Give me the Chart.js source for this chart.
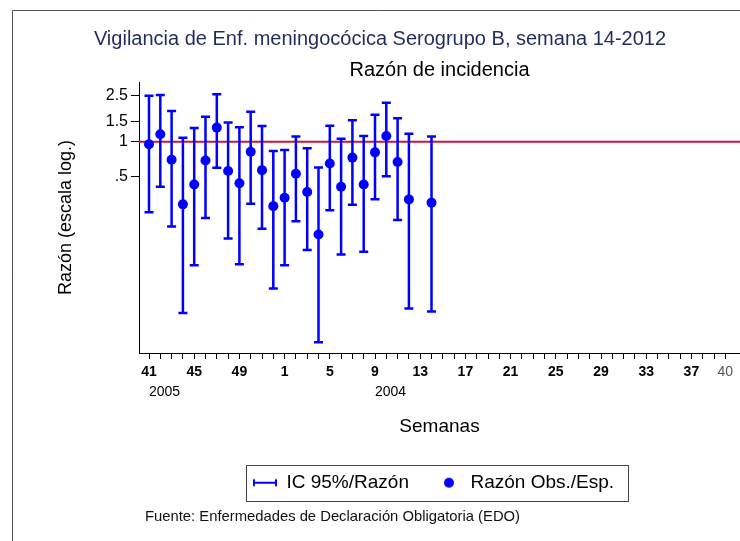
<!DOCTYPE html>
<html>
<head>
<meta charset="utf-8">
<title>Vigilancia Enf. meningocócica</title>
<script src="https://cdn.jsdelivr.net/npm/chart.js"></script>
<style>
  html, body { margin: 0; padding: 0; background: #fff; }
  #wrap { width: 740px; height: 541px; position: relative; }
</style>
</head>
<body>
<div id="wrap"><canvas id="grafico"></canvas></div>
<script>
// Semanas del eje X (41-52 y luego 1-40)
const semanas = [41, 42, 43, 44, 45, 46, 47, 48, 49, 50, 51, 52,
  1, 2, 3, 4, 5, 6, 7, 8, 9, 10, 11, 12, 13, 14, 15, 16, 17, 18, 19, 20,
  21, 22, 23, 24, 25, 26, 27, 28, 29, 30, 31, 32, 33, 34, 35, 36, 37, 38, 39, 40];
const semanasEtiquetadas = [41, 45, 49, 1, 5, 9, 13, 17, 21, 25, 29, 33, 37, 40];
const anios = ['2005', '2004'];
const aniosSemana = [41, 9];

// Razón observados/esperados e IC 95% (null = sin dato)
const razon = [0.95, 1.16, 0.70, 0.29, 0.43, 0.69, 1.32, 0.56, 0.44, 0.82, 0.57, 0.28,
  0.33, 0.53, 0.37, 0.16, 0.65, 0.41, 0.73, 0.43, 0.81, 1.12, 0.67, 0.32, null, 0.30];
const icInferior = [0.248, 0.411, 0.187, 0.034, 0.087, 0.222, 0.598, 0.148, 0.089, 0.294, 0.179, 0.055,
  0.087, 0.208, 0.118, 0.019, 0.258, 0.108, 0.288, 0.114, 0.321, 0.505, 0.213, 0.037, null, 0.035];
const icSuperior = [2.48, 2.51, 1.83, 1.08, 1.31, 1.64, 2.55, 1.46, 1.33, 1.81, 1.36, 0.83,
  0.85, 1.11, 0.88, 0.60, 1.37, 1.06, 1.53, 1.12, 1.70, 2.16, 1.59, 1.17, null, 1.11];

// Eje Y (escala log.)
const ejeYValores = [0.5, 1, 1.5, 2.5];
const ejeYEtiquetas = ['.5', '1', '1.5', '2.5'];
const referencia = 1;

const yMin = 0.0154, yMax = 3.25;
const xMin = -0.885, xMax = 52.3;

const azul = '#0000ff';
const rojo = '#c8163c';

Chart.defaults.font.family = '"Liberation Sans", Arial, Helvetica, sans-serif';
Chart.defaults.color = '#000';

// iconos de la leyenda
function iconoIC() {
  const c = document.createElement('canvas');
  c.width = 24; c.height = 10;
  const g = c.getContext('2d');
  g.strokeStyle = azul; g.lineWidth = 2;
  g.beginPath();
  g.moveTo(1, 1.5); g.lineTo(1, 8.5);
  g.moveTo(23, 1.5); g.lineTo(23, 8.5);
  g.moveTo(1, 5); g.lineTo(23, 5);
  g.stroke();
  return c;
}
function iconoPunto() {
  const c = document.createElement('canvas');
  c.width = 24; c.height = 12;
  const g = c.getContext('2d');
  g.fillStyle = azul;
  g.beginPath(); g.arc(12, 6, 5, 0, Math.PI * 2); g.fill();
  return c;
}

const puntos = [];
razon.forEach((r, i) => { if (r != null) puntos.push({ x: i, y: r }); });

// barras de IC, dibujadas antes de los puntos
const barrasError = {
  id: 'barrasError',
  beforeDatasetDraw(chart, args) {
    if (args.index !== 1) return;
    const { ctx, scales: { x, y } } = chart;
    ctx.save();
    ctx.strokeStyle = azul;
    ctx.lineWidth = 2.5;
    razon.forEach((r, i) => {
      if (icInferior[i] == null) return;
      const px = x.getPixelForValue(i);
      const y1 = y.getPixelForValue(icInferior[i]);
      const y2 = y.getPixelForValue(icSuperior[i]);
      ctx.beginPath();
      ctx.moveTo(px, y1); ctx.lineTo(px, y2);
      ctx.moveTo(px - 4.5, y1); ctx.lineTo(px + 4.5, y1);
      ctx.moveTo(px - 4.5, y2); ctx.lineTo(px + 4.5, y2);
      ctx.stroke();
    });
    ctx.restore();
  }
};

// marco, caja de la leyenda y fuente
const adornos = {
  id: 'adornos',
  afterLayout(chart) {
    // la leyenda va algo a la izquierda del centro del área
    chart.legend.left -= 6;
    chart.legend.right -= 6;
  },
  beforeDraw(chart) {
    const ctx = chart.ctx;
    ctx.save();
    ctx.fillStyle = '#fff';
    ctx.fillRect(0, 0, chart.width, chart.height);
    ctx.strokeStyle = '#555';
    ctx.lineWidth = 1;
    ctx.beginPath();
    ctx.moveTo(12.5, chart.height); ctx.lineTo(12.5, 10.5); ctx.lineTo(chart.width, 10.5);
    ctx.stroke();
    ctx.restore();
  },
  afterDraw(chart) {
    const ctx = chart.ctx;
    const hb = chart.legend.legendHitBoxes;
    if (hb && hb.length) {
      const left = Math.min(...hb.map(h => h.left)) - 7;
      const right = Math.max(...hb.map(h => h.left + h.width)) + 14;
      const mid = hb[0].top + hb[0].height / 2;
      ctx.save();
      ctx.strokeStyle = '#444';
      ctx.lineWidth = 1;
      ctx.strokeRect(Math.round(left) + 0.5, Math.round(mid - 18) + 0.5, Math.round(right - left), 36);
      ctx.restore();
    }
    ctx.save();
    ctx.font = '14.8px "Liberation Sans", Arial, sans-serif';
    ctx.fillStyle = '#111';
    ctx.textBaseline = 'middle';
    ctx.fillText('Fuente: Enfermedades de Declaración Obligatoria (EDO)', 145, 517);
    ctx.restore();
  }
};

const sinRelleno = (s) => { s.paddingLeft = 0; s.paddingRight = 0; };

new Chart(document.getElementById('grafico'), {
  type: 'scatter',
  data: {
    datasets: [
      {
        label: 'Referencia',
        data: [{ x: xMin, y: referencia }, { x: xMax, y: referencia }],
        showLine: true,
        borderColor: rojo,
        borderWidth: 2,
        pointRadius: 0,
        order: 2
      },
      {
        label: 'Razón Obs./Esp.',
        data: puntos,
        backgroundColor: azul,
        borderWidth: 0,
        pointRadius: 5,
        order: 1
      }
    ]
  },
  options: {
    responsive: true,
    maintainAspectRatio: false,
    animation: false,
    layout: { autoPadding: false, padding: { left: 20, right: 0, top: 0, bottom: 38.8 } },
    plugins: {
      tooltip: { enabled: false },
      title: {
        display: true,
        text: 'Vigilancia de Enf. meningocócica Serogrupo B, semana 14-2012',
        color: '#1f2d5c',
        font: { size: 20, weight: 'normal' },
        padding: { top: 27, bottom: 0 }
      },
      subtitle: {
        display: true,
        fullSize: false,
        text: 'Razón de incidencia',
        color: '#000',
        font: { size: 20 },
        padding: { top: 7, bottom: 0 }
      },
      legend: {
        position: 'bottom',
        fullSize: false,
        labels: {
          usePointStyle: true,
          pointStyleWidth: 24,
          padding: 28,
          color: '#000',
          font: { size: 19 },
          generateLabels: () => [
            { text: 'IC 95%/Razón', pointStyle: iconoIC(), fillStyle: azul, strokeStyle: azul, lineWidth: 0, hidden: false, datasetIndex: 1 },
            { text: 'Razón Obs./Esp.', pointStyle: iconoPunto(), fillStyle: azul, strokeStyle: azul, lineWidth: 0, hidden: false, datasetIndex: 1 }
          ]
        }
      }
    },
    scales: {
      x: {
        type: 'linear',
        position: 'bottom',
        min: xMin,
        max: xMax,
        afterBuildTicks: (s) => { s.ticks = semanas.map((_, i) => ({ value: i })); },
        afterFit: (s) => { s.height = 27; sinRelleno(s); },
        grid: { drawOnChartArea: false, drawTicks: true, tickLength: 6, color: '#000' },
        border: { color: '#000', width: 1 },
        ticks: {
          autoSkip: false,
          maxRotation: 0,
          padding: 5,
          callback: (v) => semanasEtiquetadas.includes(semanas[v]) ? String(semanas[v]) : '',
          font: (c) => ({ size: 14, weight: c.tick && c.tick.label === '40' ? 'normal' : 'bold' }),
          color: (c) => c.tick && c.tick.label === '40' ? '#555' : '#000'
        }
      },
      x2: {
        type: 'linear',
        position: 'bottom',
        min: xMin,
        max: xMax,
        afterBuildTicks: (s) => { s.ticks = aniosSemana.map(w => ({ value: semanas.indexOf(w) })); },
        afterFit: (s) => { s.height = 65.2; sinRelleno(s); },
        grid: { display: false, drawTicks: false },
        border: { display: false },
        ticks: {
          autoSkip: false,
          maxRotation: 0,
          align: 'start',
          padding: 4,
          font: { size: 14 },
          color: '#000',
          callback: (v) => anios[aniosSemana.indexOf(semanas[v])]
        },
        title: {
          display: true,
          text: 'Semanas',
          font: { size: 19 },
          color: '#000',
          padding: { top: 0, bottom: 6.8 }
        }
      },
      y: {
        type: 'logarithmic',
        min: yMin,
        max: yMax,
        afterBuildTicks: (s) => { s.ticks = ejeYValores.map(v => ({ value: v })); },
        afterFit: (s) => { s.width = 119; },
        grid: { drawOnChartArea: false, drawTicks: true, tickLength: 8, color: '#000' },
        border: { color: '#000', width: 1 },
        ticks: {
          padding: 3,
          font: { size: 16 },
          color: '#000',
          callback: (v) => ejeYEtiquetas[ejeYValores.indexOf(v)]
        },
        title: {
          display: true,
          text: 'Razón (escala log.)',
          font: { size: 18 },
          color: '#000',
          padding: { top: 35, bottom: 0 }
        }
      }
    }
  },
  plugins: [barrasError, adornos]
});
</script>
</body>
</html>
